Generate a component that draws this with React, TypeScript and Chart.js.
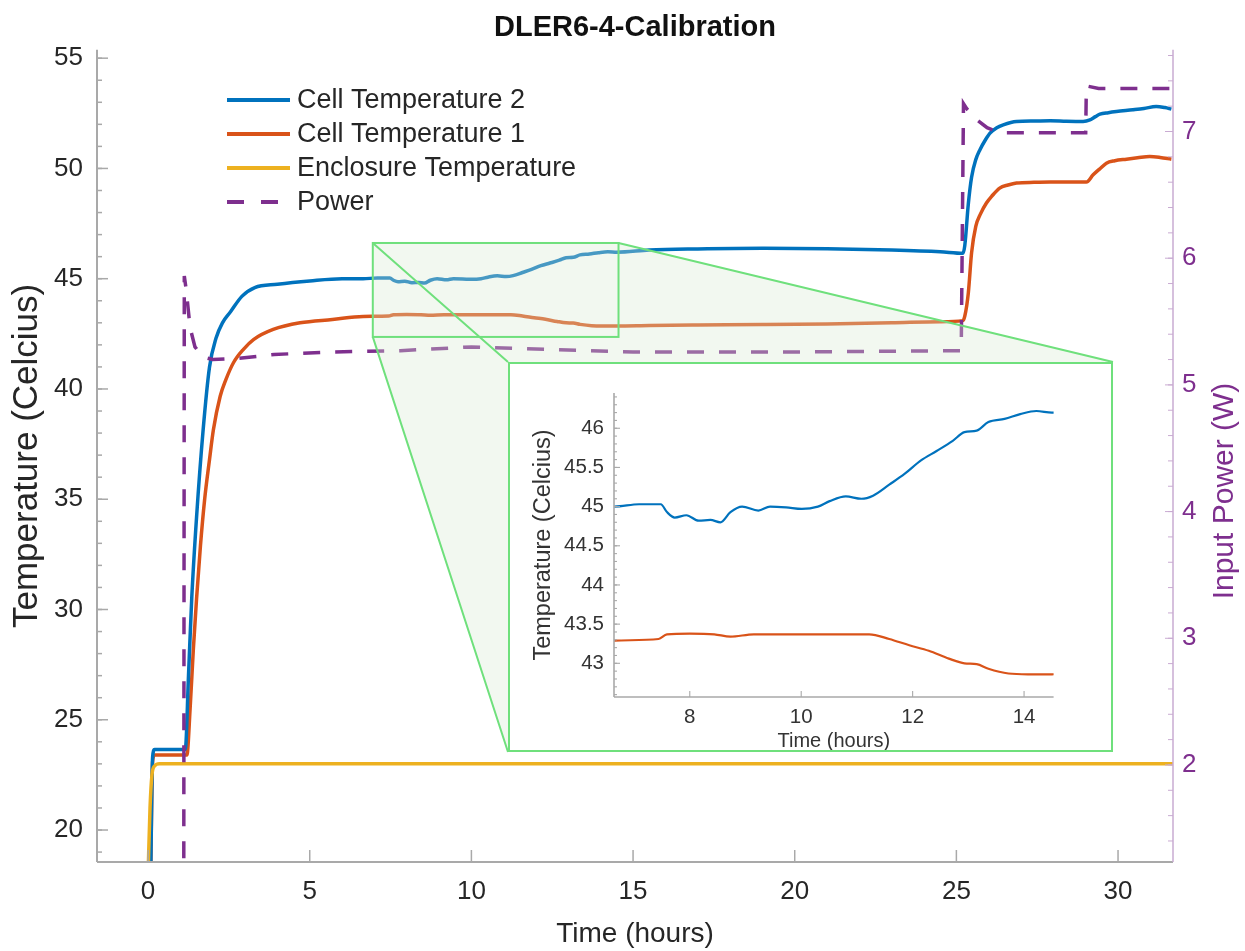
import React, { useEffect, useRef } from "react";
import { Chart, registerables } from "chart.js";

Chart.register(...registerables);

const FONT = "'Liberation Sans', Arial, Helvetica, sans-serif";

// ---- text ----
const TITLE = "DLER6-4-Calibration";
const SERIES_LABELS = ["Cell Temperature 2", "Cell Temperature 1", "Enclosure Temperature", "Power"];
const X_TITLE = "Time (hours)";
const Y_TITLE = "Temperature (Celcius)";
const Y1_TITLE = "Input Power (W)";

// ---- ticks ----
const X_TICKS = [0, 5, 10, 15, 20, 25, 30];
const Y_TICKS = [20, 25, 30, 35, 40, 45, 50, 55];
const Y1_TICKS = [2, 3, 4, 5, 6, 7];
const INSET_X_TICKS = [8, 10, 12, 14];
const INSET_Y_TICKS = [43, 43.5, 44, 44.5, 45, 45.5, 46];

// ---- axis ranges ----
const X_RANGE = [-1.58, 31.7];
const Y_RANGE = [18.55, 55.38];
const Y1_RANGE = [1.234, 7.645];
const INSET_X_RANGE = [6.64, 14.53];
const INSET_Y_RANGE = [42.57, 46.45];
const ZOOM_X = [6.95, 14.55];
const ZOOM_Y = [42.36, 46.62];

// ---- series ----
const cell2Time = [0.08, 0.14, 0.2, 0.6, 1.0, 1.15, 1.25, 1.35, 1.5, 1.7, 1.9, 2.1, 2.3, 2.55, 2.9, 3.3, 4.0, 5.0, 6.0, 6.65, 7.09, 7.48, 7.59, 7.73, 7.94, 8.16, 8.37, 8.55, 8.73, 8.94, 9.23, 9.44, 9.73, 10.01, 10.3, 10.51, 10.8, 11.08, 11.29, 11.58, 11.86, 12.15, 12.43, 12.72, 12.93, 13.15, 13.36, 13.65, 13.93, 14.22, 14.5, 15.5, 17, 19, 21, 23, 24.5, 25.2, 25.26, 25.37, 25.47, 25.6, 25.73, 25.9, 26.04, 26.25, 26.45, 26.86, 27.4, 27.9, 28.4, 28.92, 29.13, 29.3, 29.44, 29.7, 29.95, 30.46, 30.8, 31.18, 31.45, 31.65];
const cell2Temp = [18, 23.3, 23.65, 23.65, 23.65, 23.65, 27.0, 30.5, 34.2, 38.1, 41.0, 42.3, 43.0, 43.5, 44.2, 44.6, 44.75, 44.9, 45.0, 45.0, 45.03, 45.03, 44.93, 44.86, 44.89, 44.82, 44.83, 44.8, 44.93, 45.0, 44.95, 45.0, 44.99, 44.97, 45.0, 45.07, 45.13, 45.1, 45.14, 45.28, 45.42, 45.59, 45.71, 45.84, 45.95, 45.97, 46.08, 46.12, 46.18, 46.22, 46.2, 46.3, 46.35, 46.38, 46.36, 46.3, 46.22, 46.15, 46.5, 48.4, 49.6, 50.4, 50.85, 51.3, 51.6, 51.85, 51.98, 52.13, 52.15, 52.16, 52.14, 52.13, 52.2, 52.35, 52.46, 52.53, 52.58, 52.66, 52.72, 52.81, 52.76, 52.69];

const cell1Time = [0.08, 0.14, 0.2, 0.6, 1.0, 1.2, 1.3, 1.4, 1.5, 1.62, 1.75, 1.9, 2.02, 2.23, 2.4, 2.64, 2.95, 3.26, 3.87, 4.7, 5.7, 6.65, 7.44, 7.59, 8.0, 8.44, 8.73, 9.15, 9.73, 10.3, 10.87, 11.22, 11.58, 11.94, 12.29, 12.65, 12.93, 13.15, 13.36, 13.72, 14.07, 14.5, 15.5, 17, 19, 21, 23, 24.5, 25.2, 25.26, 25.37, 25.47, 25.6, 25.75, 25.93, 26.1, 26.34, 26.6, 26.86, 27.4, 27.9, 28.5, 29.02, 29.23, 29.45, 29.64, 29.9, 30.26, 30.6, 30.98, 31.3, 31.65];
const cell1Temp = [18, 23.1, 23.4, 23.4, 23.4, 23.4, 25.5, 28.2, 30.5, 32.9, 35.0, 36.8, 38.15, 39.67, 40.4, 41.19, 41.8, 42.24, 42.7, 43.0, 43.15, 43.29, 43.31, 43.37, 43.38, 43.37, 43.34, 43.37, 43.37, 43.37, 43.37, 43.37, 43.31, 43.23, 43.16, 43.06, 43.0, 42.99, 42.93, 42.87, 42.86, 42.86, 42.88, 42.9, 42.92, 42.95, 43.0, 43.05, 43.1, 43.3, 44.36, 46.17, 47.37, 47.95, 48.43, 48.75, 49.11, 49.25, 49.34, 49.37, 49.38, 49.38, 49.38, 49.71, 50.0, 50.24, 50.35, 50.42, 50.48, 50.54, 50.5, 50.42];

const enclosureTime = [0.0, 0.06, 0.12, 0.2, 0.35, 5, 10, 15, 20, 25, 31.7];
const enclosureTemp = [18, 21, 22.5, 22.9, 23.0, 23.0, 23.0, 23.0, 23.0, 23.0, 23.0];

const powerTime = [1.1, 1.12, 1.18, 1.3, 1.45, 1.7, 2.0, 2.8, 3.9, 5.7, 7.8, 10, 12.5, 15, 20, 25.15, 25.22, 25.32, 25.6, 25.95, 26.35, 29.0, 29.02, 29.4, 31.7];
const powerW = [0, 5.86, 5.75, 5.45, 5.3, 5.22, 5.2, 5.21, 5.24, 5.26, 5.27, 5.3, 5.28, 5.26, 5.26, 5.27, 7.22, 7.18, 7.1, 7.03, 6.99, 6.99, 7.36, 7.34, 7.34];

// ---- styles ----
const BLUE = "#0072BD";
const ORANGE = "#D95319";
const YELLOW = "#EDB120";
const PURPLE = "#7E2F8E";
const AXIS_GRAY = "#a9a9a9";
const AXIS_PURPLE = "#c9abd2";
const GREEN = "#6fe07c";
const TEXT = "#262626";
const DASH = [17, 15];

const INSET_BOX = { left: 508, top: 362, width: 605, height: 390, border: 2 };

const pts = (xs: number[], ys: number[]) => xs.map((x, i) => ({ x, y: ys[i] }));
const setTicks = (list: number[]) => (scale: any) => {
  scale.ticks = list.map((v) => ({ value: v }));
};

type Decor = {
  id: string;
  side: "left" | "right" | "bottom";
  color: string;
  lineWidth: number;
  majorLen: number;
  minorLen: number;
  minorStep: number;
};

function drawDecor(chart: any, specs: Decor[]) {
  const ctx = chart.ctx as CanvasRenderingContext2D;
  const a = chart.chartArea;
  ctx.save();
  for (const s of specs) {
    const sc = chart.scales[s.id];
    ctx.strokeStyle = s.color;
    ctx.lineWidth = s.lineWidth;
    ctx.beginPath();
    if (s.side === "left") {
      ctx.moveTo(a.left, a.top);
      ctx.lineTo(a.left, a.bottom);
    } else if (s.side === "right") {
      ctx.moveTo(a.right, a.top);
      ctx.lineTo(a.right, a.bottom);
    } else {
      ctx.moveTo(a.left, a.bottom);
      ctx.lineTo(a.right, a.bottom);
    }
    ctx.stroke();
    const tick = (v: number, len: number) => {
      const p = sc.getPixelForValue(v);
      ctx.beginPath();
      if (s.side === "left") {
        ctx.moveTo(a.left, p);
        ctx.lineTo(a.left + len, p);
      } else if (s.side === "right") {
        ctx.moveTo(a.right, p);
        ctx.lineTo(a.right - len, p);
      } else {
        ctx.moveTo(p, a.bottom);
        ctx.lineTo(p, a.bottom - len);
      }
      ctx.stroke();
    };
    ctx.lineWidth = Math.max(1, s.lineWidth - 0.5);
    if (s.minorStep > 0 && s.minorLen > 0) {
      const start = Math.ceil(sc.min / s.minorStep);
      const end = Math.floor(sc.max / s.minorStep);
      for (let k = start; k <= end; k++) tick(k * s.minorStep, s.minorLen);
    }
    sc.ticks.forEach((t: any) => tick(t.value, s.majorLen));
  }
  ctx.restore();
}

const mainPlugin = {
  id: "mainDecor",
  afterDatasetsDraw(chart: any) {
    const ctx = chart.ctx as CanvasRenderingContext2D;
    const xs = chart.scales.x;
    const ys = chart.scales.y;
    const x0 = xs.getPixelForValue(ZOOM_X[0]);
    const x1 = xs.getPixelForValue(ZOOM_X[1]);
    const yT = ys.getPixelForValue(ZOOM_Y[1]);
    const yB = ys.getPixelForValue(ZOOM_Y[0]);
    const bL = INSET_BOX.left;
    const bT = INSET_BOX.top;
    const bR = INSET_BOX.left + INSET_BOX.width;
    const bB = INSET_BOX.top + INSET_BOX.height;
    ctx.save();
    ctx.beginPath();
    ctx.moveTo(x0, yT);
    ctx.lineTo(x1, yT);
    ctx.lineTo(bR, bT);
    ctx.lineTo(bR, bB);
    ctx.lineTo(bL, bB);
    ctx.lineTo(x0, yB);
    ctx.closePath();
    ctx.fillStyle = "rgba(215,234,208,0.33)";
    ctx.fill();
    ctx.strokeStyle = GREEN;
    ctx.lineWidth = 2;
    ctx.strokeRect(x0, yT, x1 - x0, yB - yT);
    ctx.beginPath();
    ctx.moveTo(x0, yT);
    ctx.lineTo(bL, bT);
    ctx.moveTo(x1, yT);
    ctx.lineTo(bR, bT);
    ctx.moveTo(x0, yB);
    ctx.lineTo(bL, bB);
    ctx.stroke();
    ctx.restore();
  },
  afterDraw(chart: any) {
    drawDecor(chart, [
      { id: "x", side: "bottom", color: AXIS_GRAY, lineWidth: 2, majorLen: 12, minorLen: 0, minorStep: 0 },
      { id: "y", side: "left", color: AXIS_GRAY, lineWidth: 2, majorLen: 11, minorLen: 5, minorStep: 1 },
      { id: "y1", side: "right", color: AXIS_PURPLE, lineWidth: 1.5, majorLen: 8, minorLen: 5, minorStep: 0.2 },
    ]);
    const ctx = chart.ctx as CanvasRenderingContext2D;
    ctx.save();
    // right axis title (reads bottom to top)
    ctx.translate(1225, 491);
    ctx.rotate(-Math.PI / 2);
    ctx.fillStyle = PURPLE;
    ctx.font = `30px ${FONT}`;
    ctx.textAlign = "center";
    ctx.textBaseline = "middle";
    ctx.fillText(Y1_TITLE, 0, 0);
    ctx.restore();
    // legend inside the plot
    ctx.save();
    ctx.font = `27px ${FONT}`;
    ctx.textBaseline = "middle";
    ctx.textAlign = "left";
    chart.data.datasets.forEach((ds: any, i: number) => {
      const y = 100 + i * 34;
      ctx.strokeStyle = ds.borderColor;
      ctx.lineWidth = 4;
      ctx.setLineDash(ds.borderDash ? [17, 17] : []);
      ctx.beginPath();
      ctx.moveTo(227, y);
      ctx.lineTo(290, y);
      ctx.stroke();
      ctx.setLineDash([]);
      ctx.fillStyle = TEXT;
      ctx.fillText(ds.label, 297, y + 1);
    });
    ctx.restore();
  },
};

const insetPlugin = {
  id: "insetDecor",
  afterDraw(chart: any) {
    drawDecor(chart, [
      { id: "x", side: "bottom", color: AXIS_GRAY, lineWidth: 1.6, majorLen: 6, minorLen: 0, minorStep: 0 },
      { id: "y", side: "left", color: AXIS_GRAY, lineWidth: 1.6, majorLen: 6, minorLen: 3, minorStep: 0.1 },
    ]);
  },
};

function tickFont(size: number) {
  return { family: FONT, size };
}

const NO_GRID = { display: false, drawTicks: false };

function mainConfig(): any {
  return {
    type: "line",
    data: {
      datasets: [
        { label: SERIES_LABELS[0], data: pts(cell2Time, cell2Temp), borderColor: BLUE, borderWidth: 3.5, pointRadius: 0, yAxisID: "y", cubicInterpolationMode: "monotone", order: 2 },
        { label: SERIES_LABELS[1], data: pts(cell1Time, cell1Temp), borderColor: ORANGE, borderWidth: 3.5, pointRadius: 0, yAxisID: "y", cubicInterpolationMode: "monotone", order: 3 },
        { label: SERIES_LABELS[2], data: pts(enclosureTime, enclosureTemp), borderColor: YELLOW, borderWidth: 3.5, pointRadius: 0, yAxisID: "y", cubicInterpolationMode: "monotone", order: 1 },
        { label: SERIES_LABELS[3], data: pts(powerTime, powerW), borderColor: PURPLE, borderWidth: 3.5, borderDash: DASH, pointRadius: 0, yAxisID: "y1", tension: 0, order: 0 },
      ],
    },
    options: {
      responsive: false,
      animation: false,
      events: [],
      layout: { padding: 0 },
      plugins: {
        legend: { display: false },
        tooltip: { enabled: false },
        title: {
          display: true,
          text: TITLE,
          fullSize: false,
          color: "#111",
          font: { family: FONT, size: 29, weight: "bold" },
          padding: { top: 10.5, bottom: 4.5 },
        },
      },
      scales: {
        x: {
          type: "linear",
          bounds: "data",
          min: X_RANGE[0],
          max: X_RANGE[1],
          grid: NO_GRID,
          border: { display: false },
          ticks: { font: tickFont(26), color: TEXT, padding: 14, maxRotation: 0, autoSkip: false, callback: (v: number) => String(v) },
          afterBuildTicks: setTicks(X_TICKS),
          afterFit: (s: any) => { s.height = 89; },
          title: { display: true, text: X_TITLE, color: TEXT, font: { family: FONT, size: 28 }, padding: { top: 0, bottom: 0 } },
        },
        y: {
          type: "linear",
          position: "left",
          bounds: "data",
          min: Y_RANGE[0],
          max: Y_RANGE[1],
          grid: NO_GRID,
          border: { display: false },
          ticks: { font: tickFont(26), color: TEXT, padding: 14, autoSkip: false, callback: (v: number) => String(v) },
          afterBuildTicks: setTicks(Y_TICKS),
          afterFit: (s: any) => { s.width = 97; },
          title: { display: true, text: Y_TITLE, color: TEXT, font: { family: FONT, size: 35, lineHeight: 1.2 }, padding: { top: 6, bottom: 0 } },
        },
        y1: {
          type: "linear",
          position: "right",
          bounds: "data",
          min: Y1_RANGE[0],
          max: Y1_RANGE[1],
          grid: NO_GRID,
          border: { display: false },
          ticks: { font: tickFont(26), color: PURPLE, padding: 9, autoSkip: false, callback: (v: number) => String(v) },
          afterBuildTicks: setTicks(Y1_TICKS),
          afterFit: (s: any) => { s.width = 72; },
        },
      },
    },
    plugins: [mainPlugin],
  };
}

function insetConfig(): any {
  return {
    type: "line",
    data: {
      datasets: [
        { label: SERIES_LABELS[0], data: pts(cell2Time, cell2Temp), borderColor: BLUE, borderWidth: 2.2, pointRadius: 0, cubicInterpolationMode: "monotone" },
        { label: SERIES_LABELS[1], data: pts(cell1Time, cell1Temp), borderColor: ORANGE, borderWidth: 2.2, pointRadius: 0, cubicInterpolationMode: "monotone" },
      ],
    },
    options: {
      responsive: false,
      animation: false,
      events: [],
      layout: { padding: { top: 29, right: 57.4, left: 0, bottom: 0 } },
      plugins: { legend: { display: false }, tooltip: { enabled: false }, title: { display: false } },
      scales: {
        x: {
          type: "linear",
          bounds: "data",
          min: INSET_X_RANGE[0],
          max: INSET_X_RANGE[1],
          grid: NO_GRID,
          border: { display: false },
          ticks: { font: tickFont(20.5), color: "#333", padding: 8, maxRotation: 0, autoSkip: false, callback: (v: number) => String(v) },
          afterBuildTicks: setTicks(INSET_X_TICKS),
          afterFit: (s: any) => { s.height = 53; },
          title: { display: true, text: X_TITLE, color: "#333", font: { family: FONT, size: 20, lineHeight: 1 }, padding: { top: 0, bottom: -1 } },
        },
        y: {
          type: "linear",
          bounds: "data",
          min: INSET_Y_RANGE[0],
          max: INSET_Y_RANGE[1],
          grid: NO_GRID,
          border: { display: false },
          ticks: { font: tickFont(20.5), color: "#333", padding: 10, autoSkip: false, callback: (v: number) => String(v) },
          afterBuildTicks: setTicks(INSET_Y_TICKS),
          afterFit: (s: any) => { s.width = 104; },
          title: { display: true, text: Y_TITLE, color: "#333", font: { family: FONT, size: 23.5, lineHeight: 1.2 }, padding: { top: 19, bottom: 0 } },
        },
      },
    },
    plugins: [insetPlugin],
  };
}

export default function App() {
  const mainRef = useRef<HTMLCanvasElement>(null);
  const insetRef = useRef<HTMLCanvasElement>(null);

  useEffect(() => {
    document.body.style.margin = "0";
    const main = new Chart(mainRef.current as HTMLCanvasElement, mainConfig());
    const inset = new Chart(insetRef.current as HTMLCanvasElement, insetConfig());
    return () => {
      main.destroy();
      inset.destroy();
    };
  }, []);

  const innerW = INSET_BOX.width - 2 * INSET_BOX.border;
  const innerH = INSET_BOX.height - 2 * INSET_BOX.border;

  return (
    <div style={{ position: "absolute", left: 0, top: 0, width: 1245, height: 951, background: "#fff", overflow: "hidden" }}>
      <canvas ref={mainRef} width={1245} height={951} style={{ position: "absolute", left: 0, top: 0, display: "block" }} />
      <div
        style={{
          position: "absolute",
          left: INSET_BOX.left,
          top: INSET_BOX.top,
          width: INSET_BOX.width,
          height: INSET_BOX.height,
          boxSizing: "border-box",
          border: `${INSET_BOX.border}px solid ${GREEN}`,
          background: "#fff",
        }}
      >
        <canvas ref={insetRef} width={innerW} height={innerH} style={{ display: "block" }} />
      </div>
    </div>
  );
}
